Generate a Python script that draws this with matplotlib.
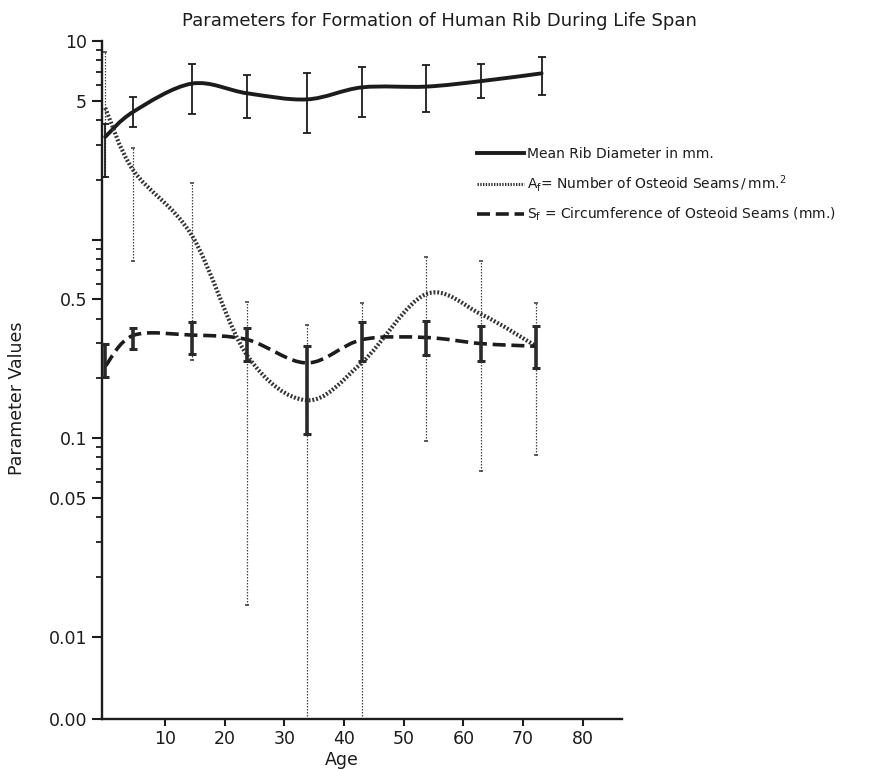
import matplotlib

matplotlib.use("Agg")

import matplotlib.pyplot as plt  # noqa: E402
import numpy as np  # noqa: E402
from matplotlib.lines import Line2D  # noqa: E402
from matplotlib.patches import PathPatch  # noqa: E402
from matplotlib.path import Path  # noqa: E402

INK = "#1c1c1c"

# Sampling ages (years)
ages = [0, 4.7, 14.5, 23.8, 33.8, 43.0, 53.7, 63.0, 72.2]
ages_diameter = [0, 4.7, 14.5, 23.8, 33.8, 43.0, 53.7, 63.0, 73.1]

# Mean rib diameter (mm) with range
diameter = [3.29, 4.40, 6.10, 5.45, 5.08, 5.84, 5.89, 6.28, 6.87]
diameter_low = [2.07, 3.67, 4.28, 4.10, 3.45, 4.12, 4.40, 5.14, 5.35]
diameter_high = [3.84, 5.24, 7.63, 6.76, 6.87, 7.42, 7.57, 7.63, 8.33]

# A_f: number of osteoid seams per mm^2 (0 = range reaches zero)
seam_count = [4.60, 2.23, 1.05, 0.26, 0.155, 0.24, 0.53, 0.42, 0.29]
seam_count_low = [2.07, 0.778, 0.248, 0.0145, 0.0, 0.0, 0.0964, 0.0681, 0.082]
seam_count_high = [8.83, 2.90, 1.93, 0.484, 0.370, 0.479, 0.817, 0.778, 0.481]

# S_f: circumference of osteoid seams (mm)
seam_circ = [0.23, 0.329, 0.33, 0.313, 0.239, 0.313, 0.321, 0.299, 0.290]
seam_circ_low = [0.203, 0.282, 0.266, 0.245, 0.105, 0.243, 0.261, 0.243, 0.225]
seam_circ_high = [0.299, 0.358, 0.384, 0.360, 0.290, 0.384, 0.387, 0.366, 0.366]

# y axis: the floor of the log axis is labelled "0.00"
y_floor = 0.00383
y_major = [y_floor, 0.01, 0.05, 0.1, 0.5, 1, 5, 10]
y_major_labels = ["0.00", "0.01", "0.05", "0.1", "0.5", "", "5", "10"]
y_minor = [0.02, 0.03, 0.04, 0.06, 0.07, 0.08, 0.09,
           0.2, 0.3, 0.4, 0.6, 0.7, 0.8, 0.9,
           2, 3, 4, 6, 7, 8, 9]
x_ticks = [10, 20, 30, 40, 50, 60, 70, 80]

plt.rcParams["font.family"] = ["DejaVu Sans"]


def smooth_curve(ax, xs, ys, **style):
    """Catmull-Rom curve through the points, built in (x, log10 y) space."""
    pts = np.column_stack([np.asarray(xs, float), np.log10(ys)])
    ext = np.vstack([pts[0], pts, pts[-1]])
    verts = [pts[0]]
    codes = [Path.MOVETO]
    for i in range(len(pts) - 1):
        p0, p1, p2, p3 = ext[i], ext[i + 1], ext[i + 2], ext[i + 3]
        verts += [p1 + (p2 - p0) / 6, p2 - (p3 - p1) / 6, p2]
        codes += [Path.CURVE4] * 3
    verts = np.array(verts)
    verts[:, 1] = 10 ** verts[:, 1]
    patch = PathPatch(Path(verts, codes), fill=False, **style)
    ax.add_patch(patch)
    return patch


def range_bars(ax, xs, mid, low, high, **style):
    mid = np.asarray(mid)
    yerr = [mid - np.asarray(low), np.asarray(high) - mid]
    return ax.errorbar(xs, mid, yerr=yerr, fmt="none", **style)


fig = plt.figure(figsize=(8.69, 7.69), dpi=100)
ax = fig.add_axes([0.117, 0.0646, 0.5983, 0.8821])
ax.set_yscale("log")
ax.set_xlim(-0.6, 86.5)
ax.set_ylim(y_floor, 10)

# Mean rib diameter
smooth_curve(ax, ages_diameter, diameter, edgecolor=INK, linewidth=2.8,
             capstyle="round", zorder=3)
range_bars(ax, ages_diameter, diameter, diameter_low, diameter_high,
           ecolor=INK, elinewidth=1.3, capsize=2.6, capthick=1.3, zorder=4)

# A_f curve with thin dotted ranges
smooth_curve(ax, ages, seam_count, edgecolor="#333333", linewidth=3.0,
             linestyle=(0, (0.45, 0.45)), capstyle="butt", zorder=3)
eb = range_bars(ax, ages, seam_count, seam_count_low, seam_count_high,
                ecolor="#444444", elinewidth=0.9, capsize=1.6, capthick=1.2,
                zorder=2)
for coll in eb[2]:
    coll.set_linestyle((0, (1.2, 1.2)))

# S_f dashed curve with heavy ranges
smooth_curve(ax, ages, seam_circ, edgecolor=INK, linewidth=2.6,
             linestyle=(0, (3.6, 1.6)), capstyle="butt", zorder=3)
range_bars(ax, ages, seam_circ, seam_circ_low, seam_circ_high,
           ecolor="#2a2a2a", elinewidth=2.6, capsize=3.0, capthick=2.2, zorder=4)

# Axes styling
for side in ("top", "right"):
    ax.spines[side].set_visible(False)
for side in ("left", "bottom"):
    ax.spines[side].set_linewidth(1.7)
    ax.spines[side].set_color(INK)

ax.set_yticks(y_major)
ax.set_yticklabels(y_major_labels)
ax.set_yticks(y_minor, minor=True)
ax.yaxis.set_minor_formatter(matplotlib.ticker.NullFormatter())
ax.set_xticks(x_ticks)
ax.set_xticklabels([str(t) for t in x_ticks])
ax.tick_params(axis="y", which="major", length=7.5, width=1.5, pad=3,
               labelsize=12.5, colors=INK)
ax.tick_params(axis="y", which="minor", length=4.5, width=1.3, colors=INK)
ax.tick_params(axis="x", which="major", length=5, width=1.5, pad=3,
               labelsize=12.5, colors=INK)
ax.tick_params(axis="x", which="minor", length=0)

ax.set_xlabel("Age", fontsize=12.5, color=INK)
ax.xaxis.set_label_coords(0.4615, -0.046)
ax.set_ylabel("Parameter Values", fontsize=12.5, color=INK)
ax.yaxis.set_label_coords(-0.1455, 0.474)

fig.text(0.506, 1 - 21 / 769, "Parameters for Formation of Human Rib During Life Span",
         ha="center", va="center", fontsize=13, color=INK)

handles = [
    Line2D([], [], color=INK, linewidth=2.8),
    Line2D([], [], color="#333333", linewidth=2.2, linestyle=(0, (0.45, 0.45))),
    Line2D([], [], color=INK, linewidth=2.6, linestyle=(0, (3.6, 1.6))),
]
labels = [
    "Mean Rib Diameter in mm.",
    r"A$_\mathrm{f}$= Number of Osteoid Seams$\,/\,$mm.$^2$",
    r"S$_\mathrm{f}$ = Circumference of Osteoid Seams (mm.)",
]
fig.legend(handles, labels, loc="upper left", bbox_to_anchor=(0.549, 0.8085),
           frameon=False, fontsize=10, handlelength=3.4, handletextpad=0.2,
           labelspacing=0.84, borderpad=0, borderaxespad=0,
           labelcolor=INK)

fig.savefig("out.png", dpi=100, facecolor="white")
